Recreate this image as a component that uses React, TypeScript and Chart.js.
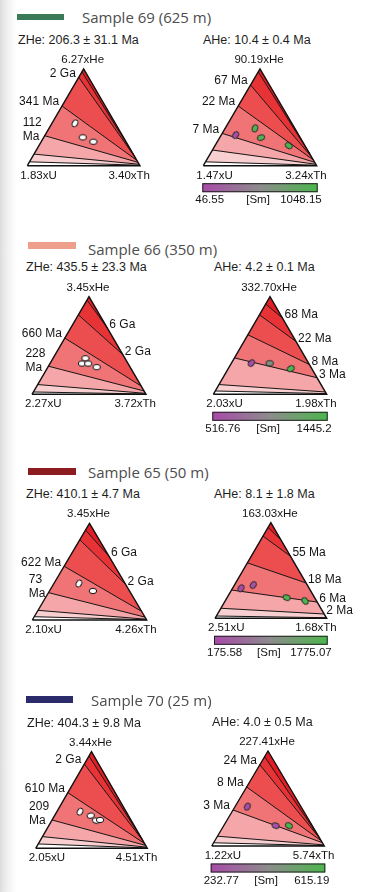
import React, { useEffect, useRef } from "react";
import { Chart, registerables } from "chart.js";

Chart.register(...registerables);

const FONT = '"Liberation Sans", Arial, Helvetica, sans-serif';
const TITLE_FONT = '"Open Sans", "Noto Sans", sans-serif';
const SQ = Math.sqrt(3) / 2;

// ---------------- DATA ----------------
const sampleNames = ["Sample 69 (625 m)", "Sample 66 (350 m)", "Sample 65 (50 m)", "Sample 70 (25 m)"];
const zheMean = [206.3, 435.5, 410.1, 404.3];
const zheErr = [31.1, 23.3, 4.7, 9.8];
const aheMean = [10.4, 4.2, 8.1, 4.0];
const aheErr = [0.4, 0.1, 1.8, 0.5];

// panels: [69 ZHe, 69 AHe, 66 ZHe, 66 AHe, 65 ZHe, 65 AHe, 70 ZHe, 70 AHe]
const heFactor = [6.27, 90.19, 3.45, 332.7, 3.45, 163.03, 3.44, 227.41];
const uFactor = [1.83, 1.47, 2.27, 2.03, 2.1, 2.51, 2.05, 1.22];
const thFactor = [3.4, 3.24, 3.72, 1.98, 4.26, 1.68, 4.51, 5.74];

// isochrons: He fraction where each line meets the U–He edge (left) and the Th–He edge (right)
const isoLeft = [
  [0.97, 0.914, 0.617, 0.31, 0.12, 0.04],
  [0.97, 0.834, 0.617, 0.334, 0.162, 0.04],
  [0.966, 0.814, 0.576, 0.288, 0.1, 0.024],
  [0.925, 0.814, 0.61, 0.373, 0.1, 0.034],
  [0.93, 0.83, 0.556, 0.283, 0.1, 0.034],
  [0.95, 0.86, 0.58, 0.296, 0.105, 0.024],
  [0.955, 0.872, 0.576, 0.293, 0.121, 0.045],
  [0.94, 0.855, 0.621, 0.379, 0.103, 0.034],
];
const isoRight = [
  [0.1, 0.08, 0.055, 0.035, 0.015, 0.005],
  [0.12, 0.09, 0.06, 0.035, 0.015, 0.005],
  [0.678, 0.407, 0.085, 0.034, 0.01, 0.003],
  [0.78, 0.542, 0.305, 0.17, 0.024, 0.007],
  [0.66, 0.37, 0.09, 0.03, 0.008, 0.003],
  [0.82, 0.65, 0.37, 0.17, 0.045, 0.006],
  [0.1, 0.08, 0.05, 0.03, 0.012, 0.004],
  [0.1, 0.08, 0.055, 0.035, 0.012, 0.004],
];
const isoLabels = [
  [null, "2 Ga", "341 Ma", "112\nMa", null, null],
  [null, "67 Ma", "22 Ma", "7 Ma", null, null],
  ["6 Ga", "2 Ga", "660 Ma", "228\nMa", null, null],
  ["68 Ma", "22 Ma", "8 Ma", "3 Ma", null, null],
  ["6 Ga", "2 Ga", "622 Ma", "73\nMa", null, null],
  [null, "55 Ma", "18 Ma", "6 Ma", "2 Ma", null],
  [null, "2 Ga", "610 Ma", "209\nMa", null, null],
  [null, "24 Ma", "8 Ma", "3 Ma", null, null],
];
const isoLabelSide = ["LLLLLL", "LLLLLL", "RRLLLL", "RRRRRR", "RRLLLL", "RRRRRR", "LLLLLL", "LLLLLL"];

// grains: He and Th fractions
const grainHe = [
  [0.438, 0.293, 0.248],
  [0.317, 0.386, 0.29, 0.207],
  [0.369, 0.315, 0.315, 0.278],
  [0.32, 0.318, 0.263],
  [0.377, 0.3],
  [0.314, 0.348, 0.216, 0.181],
  [0.379, 0.338, 0.286, 0.293],
  [0.414, 0.214, 0.214],
];
const grainTh = [
  [0.204, 0.345, 0.462],
  [0.127, 0.263, 0.364, 0.65],
  [0.284, 0.281, 0.335, 0.428],
  [0.176, 0.338, 0.552],
  [0.219, 0.38],
  [0.076, 0.169, 0.534, 0.716],
  [0.208, 0.324, 0.397, 0.43],
  [0.11, 0.461, 0.579],
];
const grainSm = [null, [60, 1000, 980, 1040], null, [530, 1050, 1440], null, [180, 260, 1700, 1775], null, [240, 250, 610]];
const smRange = [
  [46.55, 1048.15],
  [516.76, 1445.2],
  [175.58, 1775.07],
  [232.77, 615.19],
];

// ---------------- STYLE / LAYOUT ----------------
const grainTilt = [
  [-60, 0, 0],
  [-55, -70, -20, 35],
  [0, 0, 0, 0],
  [-50, 0, -30],
  [-60, 0],
  [-55, -55, 20, 50],
  [-60, -10, 20, 0],
  [-60, 20, 30],
];
const bandColors = ["#e31d23", "#e83336", "#ec4d4e", "#f07476", "#f5a6a8", "#f9d0d1", "#ffffff"];
const smStops = ["#a84ba8", "#8c8c8c", "#4cb64c"];
const barColors = ["#3b7a58", "#ee9f8b", "#8c1c1f", "#2b2a6b"];

const panelBoxes = [
  { left: 0, top: 48, width: 185, height: 162, blX: 27.3, baseY: 165.7, triW: 112.7, triH: 96.7 },
  { left: 185, top: 48, width: 185, height: 162, blX: 203.3, baseY: 165.7, triW: 113.4, triH: 96.7 },
  { left: 0, top: 276, width: 185, height: 160, blX: 32, baseY: 394.3, triW: 114, triH: 97.6 },
  { left: 185, top: 276, width: 185, height: 160, blX: 213.3, baseY: 394.3, triW: 113.4, triH: 97.6 },
  { left: 0, top: 503, width: 185, height: 160, blX: 32.3, baseY: 620, triW: 114.4, triH: 96.7 },
  { left: 185, top: 503, width: 185, height: 160, blX: 215, baseY: 618.3, triW: 111.7, triH: 95.6 },
  { left: 0, top: 730, width: 185, height: 160, blX: 35.7, baseY: 848.3, triW: 111.6, triH: 96.6 },
  { left: 185, top: 730, width: 185, height: 160, blX: 211.7, baseY: 846, triW: 112.6, triH: 95 },
];
const headerBoxes = [
  { bar: [17, 13.5, 47, 6], title: [82, 17], zhe: [18, 40], ahe: [203, 40] },
  { bar: [28, 242, 48, 7], title: [88, 249], zhe: [26, 267], ahe: [214, 267] },
  { bar: [28, 468, 48, 6.5], title: [88, 472], zhe: [26, 494], ahe: [214, 494] },
  { bar: [26, 696, 47, 6.5], title: [91, 700], zhe: [27, 723], ahe: [212, 722] },
];

function hexRgb(h: string) {
  const v = parseInt(h.slice(1), 16);
  return [(v >> 16) & 255, (v >> 8) & 255, v & 255];
}
function mix(a: string, b: string, t: number) {
  const A = hexRgb(a), B = hexRgb(b);
  const c = A.map((x, k) => Math.round(x + (B[k] - x) * t));
  return `rgb(${c[0]},${c[1]},${c[2]})`;
}
function smColor(v: number, range: number[]) {
  const t = Math.max(0, Math.min(1, (v - range[0]) / (range[1] - range[0])));
  return t < 0.5 ? mix(smStops[0], smStops[1], t * 2) : mix(smStops[1], smStops[2], (t - 0.5) * 2);
}
function ellipseImage(fill: string, stroke: string, rx: number, ry: number) {
  const c = document.createElement("canvas");
  c.width = 12;
  c.height = 12;
  const ctx = c.getContext("2d")!;
  ctx.beginPath();
  ctx.ellipse(6, 6, rx, ry, 0, 0, Math.PI * 2);
  ctx.fillStyle = fill;
  ctx.fill();
  ctx.lineWidth = 1;
  ctx.strokeStyle = stroke;
  ctx.stroke();
  return c;
}

const lp = (t: number) => ({ x: t / 2, y: t * SQ });
const rp = (s: number) => ({ x: 1 - s / 2, y: s * SQ });

function TernaryPanel({ i }: { i: number }) {
  const ref = useRef<HTMLCanvasElement>(null);
  const b = panelBoxes[i];
  useEffect(() => {
    const canvas = ref.current!;
    const yUnit = b.triH / SQ;
    const xMin = (b.left - b.blX) / b.triW;
    const xMax = (b.left + b.width - b.blX) / b.triW;
    const yMin = (b.baseY - (b.top + b.height)) / yUnit;
    const yMax = (b.baseY - b.top) / yUnit;
    const L = isoLeft[i];
    const R = isoRight[i];
    const n = L.length;
    const apex = { x: 0.5, y: SQ };
    const bl = { x: 0, y: 0 };
    const br = { x: 1, y: 0 };
    const datasets: any[] = [];

    const isAHe = i % 2 === 1;
    const block = Math.floor(i / 2);
    const imgs = grainHe[i].map((_, j) => {
      if (isAHe) return ellipseImage(smColor((grainSm[i] as number[])[j], smRange[block]), "#2a2a2a", 3.8, 2.8);
      return ellipseImage("#ffffff", "#111111", 3.7, 2.7);
    });
    datasets.push({
      data: grainHe[i].map((h, j) => ({ x: grainTh[i][j] + h / 2, y: h * SQ })),
      showLine: false,
      pointStyle: imgs,
      pointRotation: grainTilt[i],
      pointRadius: 4,
      order: 0,
    });
    datasets.push({
      data: [bl, apex, br, bl],
      showLine: true,
      borderColor: "#111111",
      borderWidth: 1.4,
      pointRadius: 0,
      fill: false,
      order: 1,
    });
    for (let k = 0; k < n; k++) {
      datasets.push({
        data: [lp(L[k]), rp(R[k])],
        showLine: true,
        borderColor: "#161616",
        borderWidth: 1,
        pointRadius: 0,
        fill: false,
        order: 2,
      });
    }
    for (let k = 0; k <= n; k++) {
      let pts;
      if (k === 0) pts = [lp(L[0]), apex, rp(R[0]), lp(L[0])];
      else if (k === n) pts = [bl, lp(L[n - 1]), rp(R[n - 1]), br, bl];
      else pts = [lp(L[k]), lp(L[k - 1]), rp(R[k - 1]), rp(R[k]), lp(L[k])];
      datasets.push({
        data: pts,
        showLine: true,
        fill: "shape",
        backgroundColor: bandColors[k],
        borderColor: bandColors[k],
        borderWidth: 0.5,
        pointRadius: 0,
        order: 3,
      });
    }

    const textPlugin = {
      id: "ternaryText",
      afterDatasetsDraw(chart: any) {
        const ctx = chart.ctx;
        const xs = chart.scales.x;
        const ys = chart.scales.y;
        const px = (p: { x: number; y: number }) => [xs.getPixelForValue(p.x), ys.getPixelForValue(p.y)];
        ctx.save();
        ctx.font = `11.5px ${FONT}`;
        ctx.fillStyle = "#141414";
        ctx.textBaseline = "middle";
        const [ax, ay] = px(apex);
        ctx.textAlign = "center";
        ctx.fillText(`${heFactor[i].toFixed(2)}xHe`, ax - 1, ay - 9);
        const [ux, uy] = px(bl);
        ctx.textAlign = "left";
        ctx.fillText(`${uFactor[i].toFixed(2)}xU`, ux - 7, uy + 10);
        const [tx, ty] = px(br);
        ctx.textAlign = "right";
        ctx.fillText(`${thFactor[i].toFixed(2)}xTh`, tx + 10, ty + 10);

        ctx.font = `12px ${FONT}`;
        isoLabels[i].forEach((lab, k) => {
          if (!lab) return;
          if (isoLabelSide[i][k] === "L") {
            const [x, y] = px(lp(L[k]));
            const lines = lab.split("\n");
            if (lines.length === 1) {
              ctx.textAlign = "right";
              ctx.fillText(lab, x - 3, y - 4);
            } else {
              const w = Math.max(...lines.map((s) => ctx.measureText(s).width));
              ctx.textAlign = "left";
              lines.forEach((s, j) => {
                ctx.fillText(s, x - 3 - w, y + 1 - 14 * (lines.length - 1 - j));
              });
            }
          } else {
            const [x, y] = px(rp(R[k]));
            ctx.textAlign = "left";
            ctx.fillText(lab, x + 2, y - 3);
          }
        });

        if (isAHe) {
          ctx.font = `11.5px ${FONT}`;
          const left = ux - 1;
          const right = tx + 1;
          const top = uy + 17.5;
          const h = 9;
          const g = ctx.createLinearGradient(left, 0, right, 0);
          g.addColorStop(0, smStops[0]);
          g.addColorStop(0.5, smStops[1]);
          g.addColorStop(1, smStops[2]);
          ctx.fillStyle = g;
          ctx.fillRect(left, top, right - left, h);
          ctx.lineWidth = 1;
          ctx.strokeStyle = "#222222";
          ctx.strokeRect(left + 0.5, top + 0.5, right - left - 1, h - 1);
          ctx.fillStyle = "#141414";
          const ly = top + h + 8;
          const r = smRange[block];
          ctx.textAlign = "left";
          ctx.fillText(String(r[0]), left - 7, ly);
          ctx.textAlign = "center";
          ctx.fillText("[Sm]", (left + right) / 2 - 2, ly);
          ctx.textAlign = "right";
          ctx.fillText(String(r[1]), right + 4, ly);
        }
        ctx.restore();
      },
    };

    const chart = new Chart(canvas, {
      type: "scatter",
      data: { datasets },
      options: {
        animation: false,
        responsive: false,
        maintainAspectRatio: false,
        events: [],
        layout: { padding: 0, autoPadding: false },
        elements: { line: { tension: 0 } },
        plugins: { legend: { display: false }, tooltip: { enabled: false } },
        scales: {
          x: { type: "linear", min: xMin, max: xMax, display: false, bounds: "data" },
          y: { type: "linear", min: yMin, max: yMax, display: false, bounds: "data" },
        },
      },
      plugins: [textPlugin],
    } as any);
    return () => chart.destroy();
  }, []);
  return (
    <canvas
      ref={ref}
      width={b.width}
      height={b.height}
      style={{ position: "absolute", left: b.left, top: b.top, width: b.width, height: b.height }}
    />
  );
}

function Txt({ x, y, size, color, family, children }: any) {
  return (
    <div
      style={{
        position: "absolute",
        left: x,
        top: y - size * 0.6,
        fontSize: size,
        lineHeight: `${size * 1.2}px`,
        color,
        fontFamily: family,
        whiteSpace: "nowrap",
      }}
    >
      {children}
    </div>
  );
}

export default function App() {
  return (
    <div
      style={{
        position: "absolute",
        left: 0,
        top: 0,
        width: 370,
        height: 892,
        overflow: "hidden",
        background: "linear-gradient(to right, #dcdcdc 0px, #eeeeee 6px, #ffffff 16px)",
      }}
    >
      {panelBoxes.map((_, i) => (
        <TernaryPanel key={i} i={i} />
      ))}
      {headerBoxes.map((h, k) => (
        <React.Fragment key={k}>
          <div
            style={{
              position: "absolute",
              left: h.bar[0],
              top: h.bar[1],
              width: h.bar[2],
              height: h.bar[3],
              background: barColors[k],
            }}
          />
          <Txt x={h.title[0]} y={h.title[1]} size={15} color="#4d4d4d" family={TITLE_FONT}>
            {sampleNames[k]}
          </Txt>
          <Txt x={h.zhe[0]} y={h.zhe[1]} size={12.5} color="#1e1e1e" family={FONT}>
            {`ZHe: ${zheMean[k].toFixed(1)} ± ${zheErr[k].toFixed(1)} Ma`}
          </Txt>
          <Txt x={h.ahe[0]} y={h.ahe[1]} size={12.5} color="#1e1e1e" family={FONT}>
            {`AHe: ${aheMean[k].toFixed(1)} ± ${aheErr[k].toFixed(1)} Ma`}
          </Txt>
        </React.Fragment>
      ))}
    </div>
  );
}
